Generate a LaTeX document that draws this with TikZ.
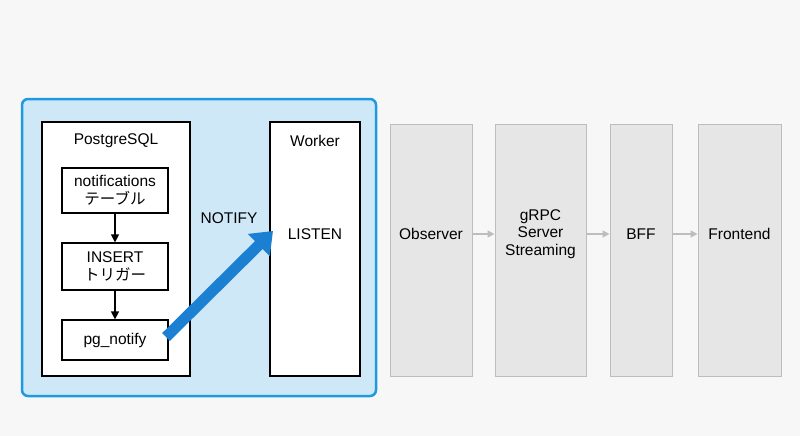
\documentclass[tikz,border=0pt]{standalone}
\usepackage{fontspec}
\setmainfont{Liberation Sans}
\newfontfamily\jp{Noto Sans CJK JP}
\usetikzlibrary{arrows.meta}
\definecolor{bluefill}{HTML}{CFE8F8}
\definecolor{blueline}{HTML}{1E9BE0}
\definecolor{arrowblue}{HTML}{1B7FD2}
\definecolor{grayfill}{HTML}{E6E6E6}
\definecolor{grayline}{HTML}{BDBDBD}
\begin{document}
\begin{tikzpicture}[x=1pt,y=-1pt,font=\fontsize{15.5}{17.5}\selectfont,
  wbox/.style={draw=black,fill=white,line width=1.2pt,align=center,inner sep=0pt},
  gbox/.style={draw=grayline,fill=grayfill,line width=1pt,align=center,inner sep=0pt,minimum height=252},
  lbl/.style={align=center,inner sep=0pt},
  blk/.style={-{Triangle[length=8pt,width=8pt]},line width=1.2pt},
  garr/.style={-{Triangle[length=7pt,width=7pt]},line width=1.4pt,draw=grayline}]
\fill[white!97!black] (0,0) rectangle (800,436);
\useasboundingbox (0,0) rectangle (800,436);
\draw[fill=bluefill,draw=blueline,line width=2.5pt,rounded corners=6pt] (22,99) rectangle (376,396);
\node[wbox,minimum width=148,minimum height=254] (pg) at (116,249) {};
\node[lbl] (pgt) at (116,141) {PostgreSQL};
\node[wbox,minimum width=106,minimum height=45] (nt) at (115,190.5) {notifications\\{\jp テーブル}};
\node[wbox,minimum width=106,minimum height=47] (ins) at (115,266.5) {INSERT\\{\jp トリガー}};
\node[wbox,minimum width=106,minimum height=40] (pn) at (115,340) {pg\_notify};
\draw[blk] (nt) -- (ins);
\draw[blk] (ins) -- (pn);
\node[wbox,minimum width=90,minimum height=254] (wk) at (315,249) {};
\node[lbl] (wkt) at (315,141) {Worker};
\node[lbl] (ls) at (315,234) {LISTEN};
\node[lbl] (nf) at (229,218) {NOTIFY};
\coordinate (a1) at (166,337);
\coordinate (a2) at (273,231);
\draw[arrowblue,line width=11pt,-{Triangle[length=20pt,width=30pt]}] (a1) -- (a2);
\node[gbox,minimum width=82] (ob) at (431,250) {};
\node[lbl] at (431,234) {Observer};
\node[gbox,minimum width=91] (gr) at (540.5,250) {};
\node[lbl] at (540.5,234) {gRPC\\Server\\Streaming};
\node[gbox,minimum width=62] (bff) at (641,250) {};
\node[lbl] at (641,234) {BFF};
\node[gbox,minimum width=83] (fe) at (739.5,250) {};
\node[lbl] at (739.5,234) {Frontend};
\draw[garr] (ob.east |- 0,234) -- (gr.west |- 0,234);
\draw[garr] (gr.east |- 0,234) -- (bff.west |- 0,234);
\draw[garr] (bff.east |- 0,234) -- (fe.west |- 0,234);
\end{tikzpicture}
\end{document}
